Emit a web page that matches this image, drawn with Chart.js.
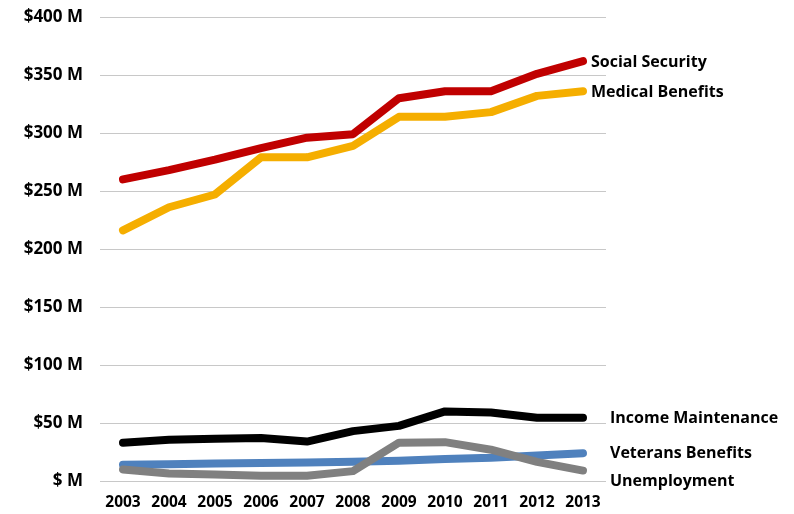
<!DOCTYPE html>
<html>
<head>
<meta charset="utf-8">
<script src="https://cdn.jsdelivr.net/npm/chart.js@4"></script>
<style>
  html, body { margin: 0; padding: 0; background: #fff; }
  #wrap { width: 794px; height: 514px; }
</style>
</head>
<body>
<div id="wrap"><canvas id="benefitsChart"></canvas></div>
<script>
// Spending by program, $ millions
const years = ['2003', '2004', '2005', '2006', '2007', '2008', '2009', '2010', '2011', '2012', '2013'];
const socialSecurity = [260, 268, 277, 287, 296, 299, 330, 336, 336, 351, 362];
const medicalBenefits = [216, 236, 247, 279, 279, 289, 314, 314, 318, 332, 336];
const incomeMaintenance = [33, 35.5, 36.5, 37, 34, 43, 47.5, 60, 59, 54.5, 54.5];
const veteransBenefits = [14, 14.5, 15, 15.5, 16, 16.5, 17.5, 19, 20, 22, 24];
const unemployment = [10, 6.5, 5.5, 4.5, 4.5, 8.5, 33, 33.5, 27, 16.5, 9];
const yTicks = [0, 50, 100, 150, 200, 250, 300, 350, 400];

const FONT = '"Open Sans", Lato, sans-serif';

// series labels at the right end of each line: [dx, dy] nudges in px
const seriesLabels = {
    'Social Security': [8, 1],
    'Medical Benefits': [8, 1],
    'Income Maintenance': [27, 1],
    'Veterans Benefits': [27, 0],
    'Unemployment': [27, 11]
};

const endLabels = {
    id: 'endLabels',
    afterDatasetsDraw(chart) {
        const ctx = chart.ctx;
        ctx.save();
        ctx.font = 'bold 16px ' + FONT;
        ctx.fillStyle = '#000';
        ctx.textBaseline = 'middle';
        chart.data.datasets.forEach((ds, i) => {
            const meta = chart.getDatasetMeta(i);
            const last = meta.data[meta.data.length - 1];
            const nudge = seriesLabels[ds.label] || [8, 0];
            ctx.fillText(ds.label, last.x + nudge[0], last.y + nudge[1]);
        });
        ctx.restore();
    }
};

function line(label, data, color) {
    return {
        label: label,
        data: data,
        borderColor: color,
        backgroundColor: color,
        borderWidth: 8,
        borderCapStyle: 'round',
        borderJoinStyle: 'round',
        pointRadius: 0,
        tension: 0,
        fill: false
    };
}

new Chart(document.getElementById('benefitsChart'), {
    type: 'line',
    data: {
        labels: years,
        datasets: [
            line('Unemployment', unemployment, '#808080'),
            line('Veterans Benefits', veteransBenefits, '#4f81bd'),
            line('Income Maintenance', incomeMaintenance, '#000000'),
            line('Medical Benefits', medicalBenefits, '#f5ae00'),
            line('Social Security', socialSecurity, '#c00000')
        ]
    },
    options: {
        responsive: true,
        maintainAspectRatio: false,
        animation: false,
        layout: { padding: { top: 17, right: 188, bottom: 0, left: 0 } },
        plugins: {
            legend: { display: false },
            tooltip: { enabled: false }
        },
        scales: {
            x: {
                offset: true,
                grid: { display: false, drawTicks: false },
                border: { display: false },
                ticks: {
                    color: '#000',
                    font: { family: FONT, size: 15.5, weight: 'bold' },
                    padding: 12,
                    maxRotation: 0
                },
                afterFit(scale) {
                    scale.height = 33;
                    scale.paddingLeft = 0;
                    scale.paddingRight = 0;
                }
            },
            y: {
                min: 0,
                max: 400,
                afterBuildTicks(scale) { scale.ticks = yTicks.map(v => ({ value: v })); },
                grid: { color: '#c8c8c8', lineWidth: 1, drawTicks: false },
                border: { display: false },
                ticks: {
                    color: '#000',
                    font: { family: FONT, size: 17, weight: 'bold' },
                    padding: 17,
                    callback: v => v === 0 ? '$ M' : '$' + v + ' M'
                },
                afterFit(scale) {
                    scale.width = 100;
                    scale.paddingTop = 0;
                    scale.paddingBottom = 0;
                }
            }
        }
    },
    plugins: [endLabels]
});
</script>
</body>
</html>
